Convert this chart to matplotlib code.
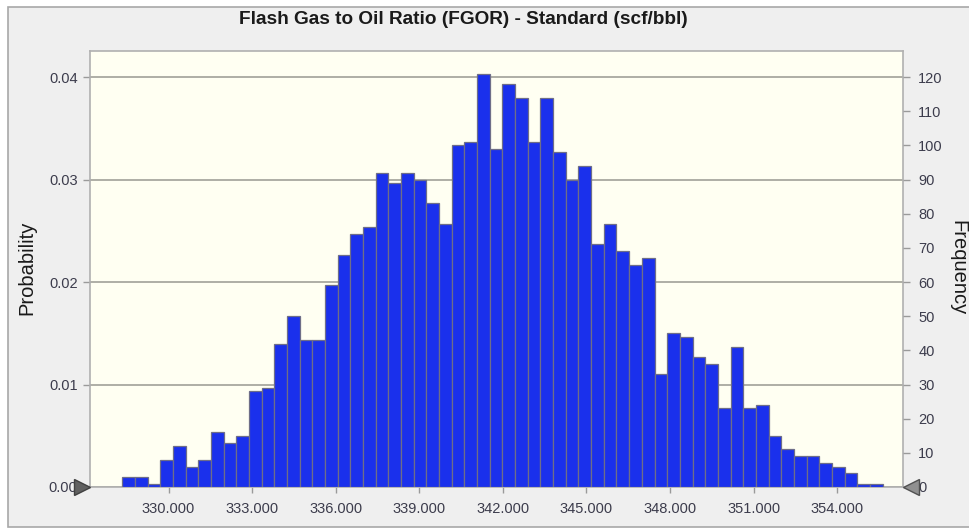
import matplotlib
matplotlib.use("Agg")
import matplotlib.pyplot as plt
import numpy as np
from matplotlib.patches import Rectangle
from matplotlib.lines import Line2D

plt.rcParams['font.family'] = ['Liberation Sans', 'DejaVu Sans']

# bin range and counts (3000 trials, 60 bins)
bin_lo = 328.335
bin_hi = 355.63
freq = [3, 3, 1, 8, 12, 6, 8, 16, 13, 15,
        28, 29, 42, 50, 43, 43, 59, 68, 74, 76,
        92, 89, 92, 90, 83, 77, 100, 101, 121, 99,
        118, 114, 101, 114, 98, 90, 94, 71, 77, 69,
        65, 67, 33, 45, 44, 38, 36, 23, 41, 23,
        24, 15, 11, 9, 9, 7, 6, 4, 1, 1]
n_trials = 3000
xticks = [330, 333, 336, 339, 342, 345, 348, 351, 354]
prob_ticks = [0.0, 0.01, 0.02, 0.03, 0.04]
freq_ticks = list(range(0, 130, 10))

title = "Flash Gas to Oil Ratio (FGOR) - Standard (scf/bbl)"

W, H = 969, 529
fig = plt.figure(figsize=(W / 100, H / 100), dpi=100, facecolor='white')

# outer panel
fig.patches.append(Rectangle((8 / W, 2 / H), 1, 1 - 9 / H, transform=fig.transFigure,
                             facecolor='#efefef', edgecolor='#a8a8a8', lw=1.2, zorder=-10))

ax = fig.add_axes([90 / W, 42 / H, 813 / W, 436 / H])
ax.set_facecolor('#fffff2')

edges = np.linspace(bin_lo, bin_hi, len(freq) + 1)
prob = np.array(freq) / n_trials
ax.bar(edges[:-1], prob, width=np.diff(edges), align='edge', color='#1a30ec',
       edgecolor='#6e6e88', linewidth=0.9, zorder=3)

ymax = 0.04254
ax.set_ylim(0, ymax)
ax.set_xlim(327.18, 356.36)

ax.set_yticks(prob_ticks)
ax.set_yticklabels([f"{v:.2f}" for v in prob_ticks])
ax.set_xticks(xticks)
ax.set_xticklabels([f"{v:.3f}" for v in xticks])
ax.grid(axis='y', color='#a8a8a0', lw=1.3, zorder=1)

for s in ax.spines.values():
    s.set_color('#b0b0b0')
    s.set_linewidth(1.2)

ax.tick_params(axis='both', colors='#9a9a9a', labelcolor='#3c3c4c', labelsize=10.5)
ax.tick_params(axis='y', length=5, width=1, pad=4)
ax.tick_params(axis='x', length=4, width=1, pad=7)

ax2 = ax.twinx()
ax2.set_ylim(0, ymax * n_trials)
ax2.set_yticks(freq_ticks)
ax2.tick_params(axis='y', colors='#9a9a9a', labelcolor='#3c3c4c', labelsize=10.5,
                length=5, width=1, pad=6)
for s in ax2.spines.values():
    s.set_visible(False)

fig.text(463 / W, 1 - 19 / H, title, ha='center', va='center',
         fontsize=13.7, fontweight='bold', color='#1a1a1a')
fig.text(27 / W, 1 - 268 / H, "Probability", rotation=90, ha='center', va='center',
         fontsize=14.5, color='#1a1a1a')
fig.text(958 / W, 1 - 268 / H, "Frequency", rotation=-90, ha='center', va='center',
         fontsize=14.5, color='#1a1a1a')

# slider markers at ends of the x axis
fig.lines.append(Line2D([82 / W], [42 / H], transform=fig.transFigure, marker='>',
                        markersize=11, color='#606060', markeredgecolor='#404040'))
fig.lines.append(Line2D([911 / W], [42 / H], transform=fig.transFigure, marker='<',
                        markersize=11, color='#909090', markeredgecolor='#505050'))

fig.savefig("out.png", dpi=100, facecolor=fig.get_facecolor())
